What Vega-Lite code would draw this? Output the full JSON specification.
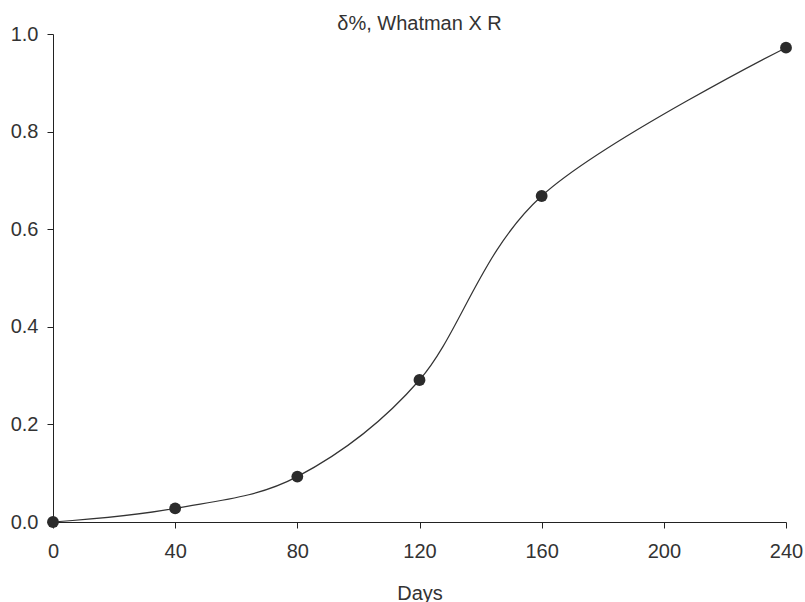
{
  "$schema": "https://vega.github.io/schema/vega-lite/v6.json",
  "autosize": "none",
  "width": 733,
  "height": 488,
  "padding": {"left": 53, "top": 34, "right": 19, "bottom": 80},
  "background": "white",
  "config": {
    "view": {"stroke": null},
    "font": "Liberation Sans"
  },
  "title": {
    "text": "δ%, Whatman X R",
    "fontSize": 20,
    "fontWeight": "normal",
    "color": "#333333",
    "font": "Liberation Sans",
    "offset": -10
  },
  "data": {
    "values": [
      {"days": 0, "value": 0.0},
      {"days": 40, "value": 0.028},
      {"days": 80, "value": 0.093},
      {"days": 120, "value": 0.291},
      {"days": 160, "value": 0.668},
      {"days": 240, "value": 0.972}
    ]
  },
  "encoding": {
    "x": {
      "field": "days",
      "type": "quantitative",
      "scale": {"domain": [0, 240], "nice": false, "zero": false},
      "axis": {
        "title": "Days",
        "values": [0, 40, 80, 120, 160, 200, 240],
        "grid": false,
        "domainColor": "#222222",
        "tickColor": "#222222",
        "tickSize": 6,
        "labelFontSize": 20,
        "labelColor": "#333333",
        "labelPadding": 13,
        "labelFlush": false,
        "titleFontSize": 20,
        "titleFontWeight": "normal",
        "titleColor": "#333333",
        "titlePadding": 22
      }
    },
    "y": {
      "field": "value",
      "type": "quantitative",
      "scale": {"domain": [0, 1], "nice": false},
      "axis": {
        "title": null,
        "values": [0, 0.2, 0.4, 0.6, 0.8, 1.0],
        "format": ".1f",
        "grid": false,
        "domainColor": "#222222",
        "tickColor": "#222222",
        "tickSize": 6,
        "labelFontSize": 20,
        "labelColor": "#333333",
        "labelPadding": 9,
        "labelFlush": false
      }
    }
  },
  "layer": [
    {
      "mark": {"type": "line", "interpolate": "cardinal", "color": "#333333", "strokeWidth": 1.2}
    },
    {
      "mark": {"type": "point", "filled": true, "size": 140, "color": "#2b2b2b", "opacity": 1}
    }
  ]
}
